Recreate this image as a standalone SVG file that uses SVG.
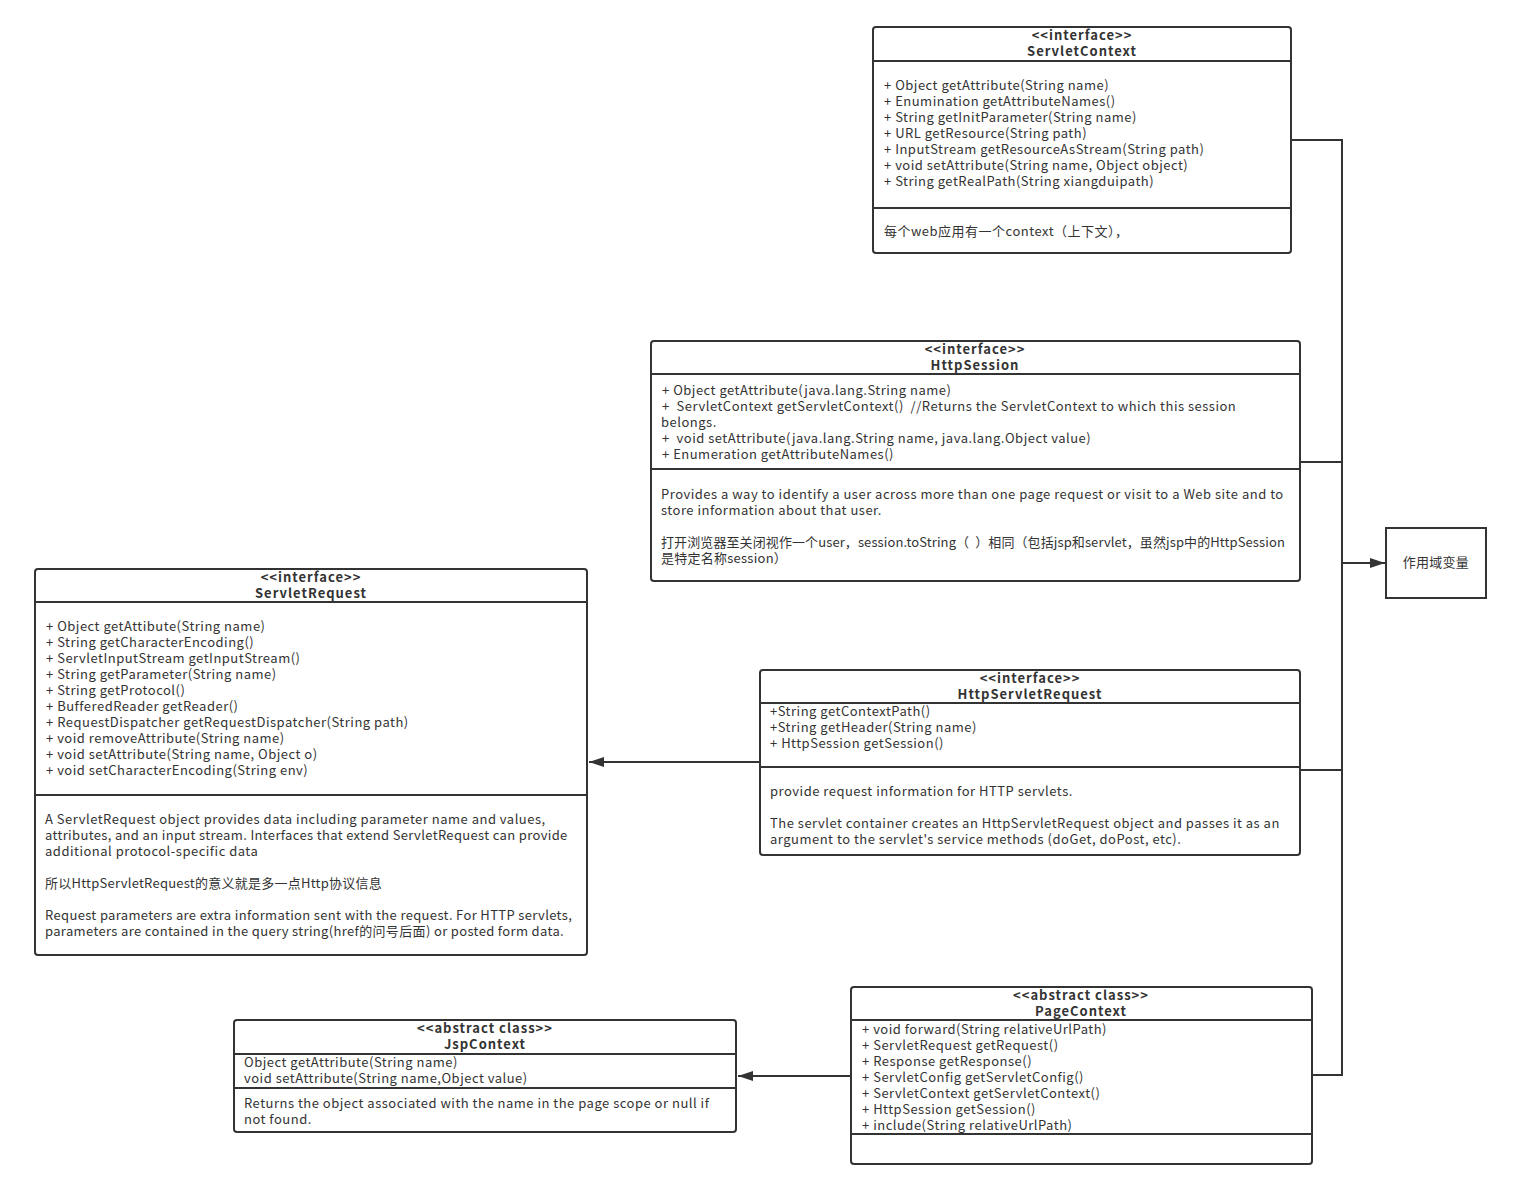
<svg xmlns="http://www.w3.org/2000/svg" width="1524" height="1196" viewBox="0 0 1524 1196">
<defs>
<marker id="arr" markerWidth="16" markerHeight="12" refX="15" refY="6" orient="auto" markerUnits="userSpaceOnUse">
<path d="M0,1 L15,6 L0,11 Z" fill="#333"/>
</marker>
<style>
.box{fill:#fff;stroke:#333;stroke-width:2}
.sep{stroke:#333;stroke-width:2}
text{font-family:"Noto Sans CJK SC","Noto Sans",sans-serif;font-size:13px;fill:#333;white-space:pre;letter-spacing:0.5px}
.c{letter-spacing:0.25px}
.c2{letter-spacing:0.1px}
.n{letter-spacing:0.35px}
.h{font-weight:bold;text-anchor:middle;letter-spacing:1px}
.con{fill:none;stroke:#333;stroke-width:2}
</style>
</defs>
<rect width="1524" height="1196" fill="#fff"/>

<g id="connectors">
<polyline class="con" points="1291,140 1342,140 1342,1075 1312,1075"/>
<line class="con" x1="1300" y1="462" x2="1342" y2="462"/>
<line class="con" x1="1300" y1="770" x2="1342" y2="770"/>
<line class="con" x1="1342" y1="563" x2="1385" y2="563" marker-end="url(#arr)"/>
<line class="con" x1="760" y1="762" x2="589" y2="762" marker-end="url(#arr)"/>
<line class="con" x1="851" y1="1076" x2="738" y2="1076" marker-end="url(#arr)"/>
</g>

<g id="ServletContext">
<rect class="box" x="873" y="27" width="418" height="226" rx="3"/>
<line class="sep" x1="873" y1="61" x2="1291" y2="61"/>
<line class="sep" x1="873" y1="208" x2="1291" y2="208"/>
<text class="h" x="1082" y="40">&lt;&lt;interface&gt;&gt;</text>
<text class="h" x="1082" y="56">ServletContext</text>
<text x="884" y="90">+ Object getAttribute(String name)</text>
<text x="884" y="106">+ Enumination getAttributeNames()</text>
<text x="884" y="122">+ String getInitParameter(String name)</text>
<text x="884" y="138">+ URL getResource(String path)</text>
<text x="884" y="154">+ InputStream getResourceAsStream(String path)</text>
<text x="884" y="170">+ void setAttribute(String name, Object object)</text>
<text x="884" y="186">+ String getRealPath(String xiangduipath)</text>
<text x="884" y="236">每个web应用有一个context（上下文），</text>
</g>

<g id="HttpSession">
<rect class="box" x="651" y="341" width="649" height="240" rx="3"/>
<line class="sep" x1="651" y1="374" x2="1300" y2="374"/>
<line class="sep" x1="651" y1="469" x2="1300" y2="469"/>
<text class="h" x="975" y="354">&lt;&lt;interface&gt;&gt;</text>
<text class="h" x="975" y="370">HttpSession</text>
<text x="662" y="395">+ Object getAttribute(java.lang.String name)</text>
<text x="662" y="411">+  ServletContext getServletContext()  //Returns the ServletContext to which this session</text>
<text x="661" y="427">belongs.</text>
<text x="662" y="443">+  void setAttribute(java.lang.String name, java.lang.Object value)</text>
<text x="662" y="459">+ Enumeration getAttributeNames()</text>
<text x="661" y="499">Provides a way to identify a user across more than one page request or visit to a Web site and to</text>
<text x="661" y="515">store information about that user.</text>
<text class="c2" x="661" y="547">打开浏览器至关闭视作一个user，session.toString（  ）相同（包括jsp和servlet，虽然jsp中的HttpSession</text>
<text class="c" x="661" y="563">是特定名称session）</text>
</g>

<g id="ServletRequest">
<rect class="box" x="35" y="569" width="552" height="386" rx="3"/>
<line class="sep" x1="35" y1="602" x2="587" y2="602"/>
<line class="sep" x1="35" y1="795" x2="587" y2="795"/>
<text class="h" x="311" y="582">&lt;&lt;interface&gt;&gt;</text>
<text class="h" x="311" y="598">ServletRequest</text>
<text x="46" y="631">+ Object getAttibute(String name)</text>
<text x="46" y="647">+ String getCharacterEncoding()</text>
<text x="46" y="663">+ ServletInputStream getInputStream()</text>
<text x="46" y="679">+ String getParameter(String name)</text>
<text x="46" y="695">+ String getProtocol()</text>
<text x="46" y="711">+ BufferedReader getReader()</text>
<text x="46" y="727">+ RequestDispatcher getRequestDispatcher(String path)</text>
<text x="46" y="743">+ void removeAttribute(String name)</text>
<text x="46" y="759">+ void setAttribute(String name, Object o)</text>
<text x="46" y="775">+ void setCharacterEncoding(String env)</text>
<text x="45" y="824">A ServletRequest object provides data including parameter name and values,</text>
<text class="n" x="45" y="840">attributes, and an input stream. Interfaces that extend ServletRequest can provide</text>
<text x="45" y="856">additional protocol-specific data</text>
<text class="c" x="45" y="888">所以HttpServletRequest的意义就是多一点Http协议信息</text>
<text class="n" x="45" y="920">Request parameters are extra information sent with the request. For HTTP servlets,</text>
<text class="n" x="45" y="936">parameters are contained in the query string(href的问号后面) or posted form data.</text>
</g>

<g id="HttpServletRequest">
<rect class="box" x="760" y="670" width="540" height="185" rx="3"/>
<line class="sep" x1="760" y1="703" x2="1300" y2="703"/>
<line class="sep" x1="760" y1="767" x2="1300" y2="767"/>
<text class="h" x="1030" y="683">&lt;&lt;interface&gt;&gt;</text>
<text class="h" x="1030" y="699">HttpServletRequest</text>
<text x="770" y="716">+String getContextPath()</text>
<text x="770" y="732">+String getHeader(String name)</text>
<text x="770" y="748">+ HttpSession getSession()</text>
<text x="770" y="796">provide request information for HTTP servlets.</text>
<text x="770" y="828">The servlet container creates an HttpServletRequest object and passes it as an</text>
<text x="770" y="844">argument to the servlet's service methods (doGet, doPost, etc).</text>
</g>

<g id="PageContext">
<rect class="box" x="851" y="987" width="461" height="177" rx="3"/>
<line class="sep" x1="851" y1="1020" x2="1312" y2="1020"/>
<line class="sep" x1="851" y1="1134" x2="1312" y2="1134"/>
<text class="h" x="1081" y="1000">&lt;&lt;abstract class&gt;&gt;</text>
<text class="h" x="1081" y="1016">PageContext</text>
<text x="862" y="1034">+ void forward(String relativeUrlPath)</text>
<text x="862" y="1050">+ ServletRequest getRequest()</text>
<text x="862" y="1066">+ Response getResponse()</text>
<text x="862" y="1082">+ ServletConfig getServletConfig()</text>
<text x="862" y="1098">+ ServletContext getServletContext()</text>
<text x="862" y="1114">+ HttpSession getSession()</text>
<text x="862" y="1130">+ include(String relativeUrlPath)</text>
</g>

<g id="JspContext">
<rect class="box" x="234" y="1020" width="502" height="112" rx="3"/>
<line class="sep" x1="234" y1="1054" x2="736" y2="1054"/>
<line class="sep" x1="234" y1="1088" x2="736" y2="1088"/>
<text class="h" x="485" y="1033">&lt;&lt;abstract class&gt;&gt;</text>
<text class="h" x="485" y="1049">JspContext</text>
<text x="244" y="1067">Object getAttribute(String name)</text>
<text x="244" y="1083">void setAttribute(String name,Object value)</text>
<text x="244" y="1108">Returns the object associated with the name in the page scope or null if</text>
<text x="244" y="1124">not found.</text>
</g>

<g id="scope">
<rect class="box" x="1386" y="528" width="100" height="70"/>
<text class="c" x="1436" y="567" text-anchor="middle">作用域变量</text>
</g>
</svg>
